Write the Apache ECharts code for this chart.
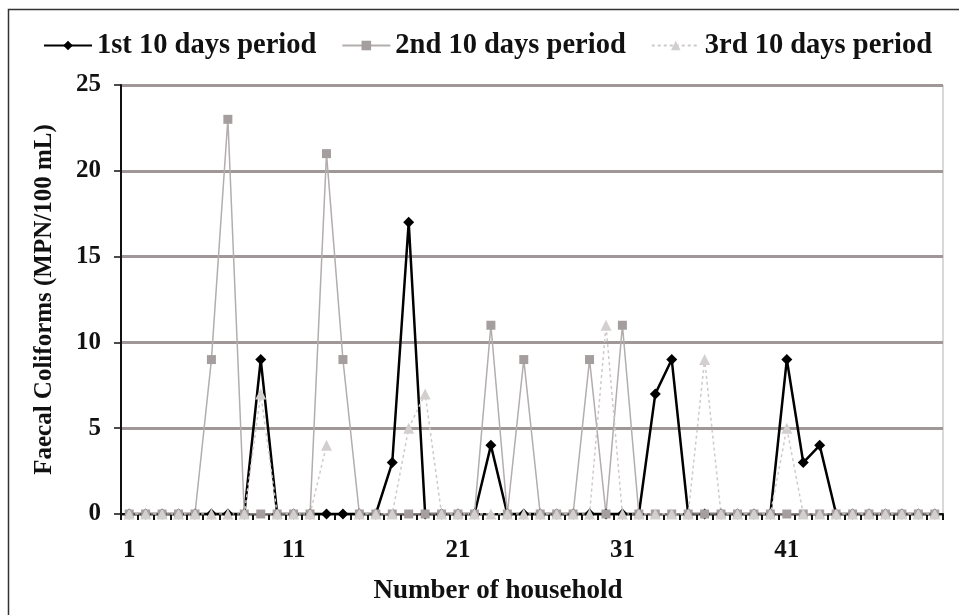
<!DOCTYPE html>
<html>
<head>
<meta charset="utf-8">
<script src="https://cdn.jsdelivr.net/npm/echarts@6/dist/echarts.min.js"></script>
<style>html,body{margin:0;padding:0;background:#fff}#c{width:959px;height:615px}</style>
</head>
<body>
<div id="c"></div>
<script>
// Households 1..50
const households = Array.from({length: 50}, (_, i) => String(i + 1));
const seriesNames = ['1st 10 days period', '2nd 10 days period', '3rd 10 days period'];
const yTicks = [0, 5, 10, 15, 20, 25];
const period1 = [0,0,0,0,0,0,0,0,9,0, 0,0,0,0,0,0,3,17,0,0, 0,0,4,0,0,0,0,0,0,0, 0,0,7,9,0,0,0,0,0,0, 9,3,4,0,0,0,0,0,0,0];
const period2 = [0,0,0,0,0,9,23,0,0,0, 0,0,21,9,0,0,0,0,0,0, 0,0,11,0,9,0,0,0,9,0, 11,0,0,0,0,0,0,0,0,0, 0,0,0,0,0,0,0,0,0,0];
const period3 = [0,0,0,0,0,0,0,0,7,0, 0,0,4,null,0,0,0,5,7,0, 0,0,0,0,0,0,0,0,0,11, 0,0,0,0,0,9,0,0,0,0, 5,0,0,0,0,0,0,0,0,0];

const chart = echarts.init(document.getElementById('c'), null, {renderer: 'canvas'});
const serif = '"Liberation Serif", "DejaVu Serif", serif';
chart.setOption({
  animation: false,
  backgroundColor: '#fff',
  graphic: [{
    type: 'rect', shape: {x: 8.5, y: 9.5, width: 1000, height: 700},
    style: {fill: 'none', stroke: '#333', lineWidth: 1.5}, silent: true
  }],
  legend: {
    top: 26, left: 38, itemGap: 25, itemWidth: 48, itemHeight: 12,
    textStyle: {fontFamily: serif, fontWeight: 'bold', fontSize: 28.5, color: '#111'},
    data: seriesNames
  },
  grid: {left: 121, right: 16, top: 85, bottom: 101, show: true, borderColor: '#b5b0b0', borderWidth: 1},
  xAxis: {
    type: 'category', data: households, boundaryGap: true,
    name: 'Number of household', nameLocation: 'middle', nameGap: 64,
    nameTextStyle: {fontFamily: serif, fontWeight: 'bold', fontSize: 27, color: '#111', padding: [0, 68, 0, 0]},
    axisLine: {lineStyle: {color: '#111', width: 2}},
    axisTick: {show: true, interval: 0, length: 6, lineStyle: {color: '#111', width: 2}},
    axisLabel: {interval: 9, margin: 24, fontFamily: serif, fontWeight: 'bold', fontSize: 25, color: '#111'},
    splitLine: {show: false}
  },
  yAxis: {
    type: 'value', min: yTicks[0], max: yTicks[yTicks.length - 1], interval: 5,
    name: 'Faecal Coliforms (MPN/100 mL)', nameLocation: 'middle', nameGap: 64, nameRotate: 90,
    nameTextStyle: {fontFamily: serif, fontWeight: 'bold', fontSize: 25, color: '#111'},
    axisLine: {show: true, lineStyle: {color: '#111', width: 2}},
    axisTick: {show: true, length: 7, lineStyle: {color: '#111', width: 1.5}},
    axisLabel: {margin: 20, fontFamily: serif, fontWeight: 'bold', fontSize: 25, color: '#111'},
    splitLine: {show: true, lineStyle: {color: '#a09898', width: 3}}
  },
  series: [
    {
      name: seriesNames[0], type: 'line', data: period1,
      symbol: 'diamond', symbolSize: 11, showSymbol: true, showAllSymbol: true,
      lineStyle: {color: '#000', width: 2.5},
      itemStyle: {color: '#000'}
    },
    {
      name: seriesNames[1], type: 'line', data: period2,
      symbol: 'rect', symbolSize: 9, showSymbol: true, showAllSymbol: true,
      lineStyle: {color: '#b3adad', width: 1.5},
      itemStyle: {color: '#a59e9e'}
    },
    {
      name: seriesNames[2], type: 'line', data: period3,
      symbol: 'triangle', symbolSize: 11, showSymbol: true, showAllSymbol: true,
      lineStyle: {color: '#cfcaca', width: 1.5, type: [3, 3]},
      itemStyle: {color: '#d4cfcf'}
    }
  ]
});
</script>
</body>
</html>
